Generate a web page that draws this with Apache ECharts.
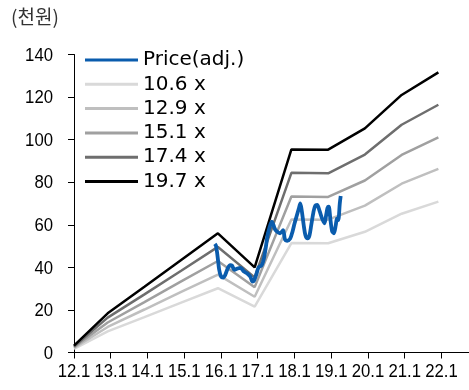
<!DOCTYPE html>
<html>
<head>
<meta charset="utf-8">
<script src="https://cdn.jsdelivr.net/npm/echarts@6/dist/echarts.min.js"></script>
<style>
  html, body { margin: 0; padding: 0; background: #fff; }
  #chart { width: 469px; height: 390px; }
</style>
</head>
<body>
<div id="chart"></div>
<script>
// Months counted from 2012.1; band points fall at each December
var bandMonths = [0, 11, 23, 35, 47, 59, 71, 83, 95, 107, 119];

// Price bands (천원) for each P/E multiple
var band106 = [1.7, 9.9, 16.6, 23.4, 30.2, 21.5, 51.4, 51.3, 56.7, 65.2, 70.9];
var band129 = [2.1, 12.0, 20.2, 28.5, 36.6, 26.2, 62.5, 62.4, 69.0, 79.3, 86.3];
var band151 = [2.5, 14.1, 23.7, 33.4, 43.0, 30.7, 73.3, 73.1, 80.8, 92.8, 101.1];
var band174 = [2.8, 16.4, 27.3, 38.4, 49.6, 35.3, 84.4, 84.2, 93.0, 107.0, 116.4];
var band197 = [3.2, 18.4, 30.9, 43.5, 56.0, 40.0, 95.4, 95.3, 105.3, 121.0, 131.6];

// Adjusted share price
var priceMonths = [46.0, 46.4, 46.9, 47.4, 48.0, 48.7, 49.4, 50.2, 51.0, 51.6, 52.4, 53.4, 54.4, 55.4,
  56.5, 57.6, 58.3, 58.8, 59.5, 60.3, 61.3, 62.0, 62.6, 63.2, 63.8, 64.6, 65.1, 65.8, 66.6, 67.3,
  68.3, 68.9, 69.6, 70.6, 71.4, 72.0, 72.7, 73.4, 73.9, 74.4, 75.0, 75.6, 76.3, 76.9, 77.5, 78.2,
  78.8, 79.4, 80.2, 81.0, 81.8, 82.4, 82.8, 83.2, 83.7, 84.3, 84.9, 85.5, 85.9, 86.3, 86.8, 87.1];
var priceValues = [51, 50, 45, 39, 35.8, 35.2, 36.5, 39.5, 41, 40.8, 38.8, 39.5, 39.8, 38.2,
  37.2, 35.6, 33.3, 33.8, 36.5, 40, 41, 44, 49, 55, 58.5, 61.5, 60, 57.5, 56.5, 56,
  57.5, 53, 52.5, 53.5, 57, 60.5, 64, 67.5, 70, 66.5, 60, 55, 53.6, 55, 60, 66,
  69, 69.3, 66.5, 63, 60.7, 65, 68, 68.5, 63, 57, 56, 60, 63, 62.2, 70, 73.5];

var xTickMonths = [0, 12, 24, 36, 48, 60, 72, 84, 96, 108, 120];
var xTickLabels = ['12.1', '13.1', '14.1', '15.1', '16.1', '17.1', '18.1', '19.1', '20.1', '21.1', '22.1'];
var yTickValues = [0, 20, 40, 60, 80, 100, 120, 140];

var seriesNames = ['Price(adj.)', '10.6 x', '12.9 x', '15.1 x', '17.4 x', '19.7 x'];

function pairs(xs, ys) {
  return xs.map(function (x, i) { return [x, ys[i]]; });
}

function bandSeries(name, values, color) {
  return {
    name: name,
    type: 'line',
    data: pairs(bandMonths, values),
    symbol: 'none',
    lineStyle: { color: color, width: 2.5 },
    itemStyle: { color: color },
    emphasis: { disabled: true },
    z: 2
  };
}

var PRICE_COLOR = '#0a5cad';
var TICK_FAMILY = '"Liberation Sans", Arial, sans-serif';
var TICK_SIZE = 19;
var NARROW = 0.88; // horizontal squeeze for the tick numbers

var chart = echarts.init(document.getElementById('chart'), null, { renderer: 'canvas' });
chart.setOption({
  animation: false,
  backgroundColor: '#ffffff',
  grid: { left: 74, right: 0, top: 54.5, bottom: 37.5, containLabel: false },
  legend: {
    orient: 'vertical',
    left: 85,
    top: 50,
    padding: 0,
    icon: 'rect',
    itemWidth: 53,
    itemHeight: 3,
    itemGap: 4.3,
    data: seriesNames,
    selectedMode: false,
    textStyle: {
      color: '#000000',
      fontFamily: '"DejaVu Sans", sans-serif',
      fontSize: 20,
      lineHeight: 20
    }
  },
  xAxis: {
    type: 'value',
    min: 0,
    max: 129,
    splitLine: { show: false },
    axisLine: { show: true, onZero: false, lineStyle: { color: '#000000', width: 1 } },
    axisTick: {
      show: true,
      length: 6,
      customValues: xTickMonths,
      lineStyle: { color: '#000000' }
    },
    axisLabel: { show: false }
  },
  yAxis: {
    type: 'value',
    min: 0,
    max: 140,
    interval: 20,
    splitLine: { show: false },
    axisLine: { show: true, lineStyle: { color: '#000000', width: 1 } },
    axisTick: { show: true, length: 6, inside: false, lineStyle: { color: '#000000' } },
    axisLabel: { show: false }
  },
  series: [
    bandSeries('10.6 x', band106, '#d9d9d9'),
    bandSeries('12.9 x', band129, '#bfbfbf'),
    bandSeries('15.1 x', band151, '#a0a0a0'),
    bandSeries('17.4 x', band174, '#6e6e6e'),
    bandSeries('19.7 x', band197, '#000000'),
    {
      name: 'Price(adj.)',
      type: 'line',
      data: pairs(priceMonths, priceValues),
      symbol: 'none',
      smooth: 0.3,
      lineStyle: { color: PRICE_COLOR, width: 3.8 },
      itemStyle: { color: PRICE_COLOR },
      emphasis: { disabled: true },
      z: 3
    }
  ]
});

// Unit caption and tick labels in a condensed face, placed at the axis ticks
var graphics = [{
  type: 'text',
  x: 11,
  y: 17,
  style: {
    text: '(천원)',
    fill: '#333333',
    fontFamily: '"Noto Sans CJK KR", sans-serif',
    fontSize: 19,
    verticalAlign: 'middle'
  }
}];

function tickText(text, x, y, align) {
  return {
    type: 'text',
    x: x,
    y: y,
    scaleX: NARROW,
    scaleY: 1,
    originX: 0,
    originY: 0,
    style: {
      text: text,
      fontFamily: TICK_FAMILY,
      fontSize: TICK_SIZE,
      fill: '#000000',
      align: align,
      verticalAlign: 'middle'
    }
  };
}

xTickMonths.forEach(function (m, i) {
  var p = chart.convertToPixel({ gridIndex: 0 }, [m, 0]);
  graphics.push(tickText(xTickLabels[i], p[0], p[1] + 19, 'center'));
});

yTickValues.forEach(function (v) {
  var p = chart.convertToPixel({ gridIndex: 0 }, [0, v]);
  graphics.push(tickText(String(v), p[0] - 21, p[1] + 1, 'right'));
});

chart.setOption({ graphic: graphics });
</script>
</body>
</html>
